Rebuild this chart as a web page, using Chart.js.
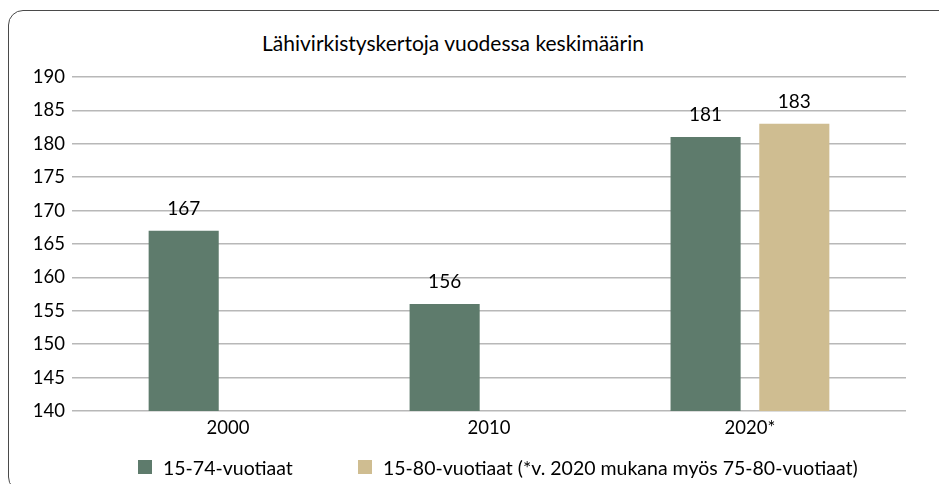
<!DOCTYPE html>
<html>
<head>
<meta charset="utf-8">
<script src="https://cdn.jsdelivr.net/npm/chart.js@4"></script>
<style>
  html, body { margin: 0; padding: 0; background: #fff; overflow: hidden; width: 939px; height: 484px; }
  #frame { position: absolute; left: 8px; top: 10px; width: 1000px; height: 480px; border: 1px solid #4a4a4a; border-radius: 15px; }
  #title { position: absolute; left: 153px; width: 600px; top: 30px; text-align: center; font-family: Lato, sans-serif; font-size: 21px; color: #000; }
  #wrap { position: absolute; left: 0; top: 0; width: 998px; height: 484px; }
  #legend { position: absolute; top: 455px; left: 138px; font-family: Lato, sans-serif; font-size: 19.5px; color: #000; white-space: nowrap; }
  .item { position: absolute; top: 0; display: flex; align-items: center; height: 24px; }
  .box { width: 14px; height: 14px; margin-right: 11px; }
</style>
</head>
<body>
<div id="frame"></div>
<div id="title">Lähivirkistyskertoja vuodessa keskimäärin</div>
<div id="wrap"><canvas id="c"></canvas></div>
<div id="legend"></div>
<script>
const categories = ['2000', '2010', '2020*'];
const seriesNames = ['15-74-vuotiaat', '15-80-vuotiaat (*v. 2020 mukana myös 75-80-vuotiaat)'];
const series1 = [167, 156, 181];
const series2 = [null, null, 183];
const yMin = 140, yMax = 190, yStep = 5;
const colors = ['#5e7b6c', '#cfbd91'];

const font = { family: 'Lato, sans-serif', size: 18.5 };

const valueLabels = {
  id: 'valueLabels',
  afterDatasetsDraw(chart) {
    const ctx = chart.ctx;
    ctx.save();
    ctx.font = '19px Lato, sans-serif';
    ctx.fillStyle = '#000';
    ctx.textAlign = 'center';
    ctx.textBaseline = 'middle';
    chart.data.datasets.forEach((ds, di) => {
      const meta = chart.getDatasetMeta(di);
      meta.data.forEach((el, i) => {
        const v = ds.data[i].y;
        if (v === null || v === undefined) return;
        ctx.fillText(String(v), el.x, el.y - 22);
      });
    });
    ctx.restore();
  }
};

new Chart(document.getElementById('c'), {
  type: 'bar',
  data: {
    datasets: [
      { label: seriesNames[0], data: categories.map((c, i) => ({ x: i, y: series1[i] })), backgroundColor: colors[0], categoryPercentage: 0.68, barPercentage: 0.79 },
      { label: seriesNames[1], data: categories.map((c, i) => ({ x: i, y: series2[i] })), backgroundColor: colors[1], categoryPercentage: 0.68, barPercentage: 0.79 }
    ]
  },
  options: {
    responsive: true,
    maintainAspectRatio: false,
    animation: false,
    layout: { padding: { left: 8, right: 92, top: 77, bottom: 43 } },
    plugins: { legend: { display: false }, title: { display: false }, tooltip: { enabled: false } },
    scales: {
      x: {
        type: 'linear', bounds: 'data', offset: false, min: -0.598, max: 2.598,
        grid: { display: false, drawTicks: false }, border: { display: false },
        afterBuildTicks: s => { s.ticks = categories.map((c, i) => ({ value: i })); },
        afterFit: s => { s.height = 30; },
        ticks: { callback: v => categories[v] ?? '', autoSkip: false, maxRotation: 0, padding: 6, color: '#000', font }
      },
      y: {
        min: yMin, max: yMax,
        ticks: { stepSize: yStep, padding: 7, color: '#000', font },
        grid: { color: '#b8b8b8', lineWidth: 1.5, drawTicks: false },
        border: { display: false },
        afterFit: s => { s.width = 64; }
      }
    }
  },
  plugins: [valueLabels]
});

// legend (HTML text)
const legend = document.getElementById('legend');
const legendX = [0, 220];
seriesNames.forEach((n, i) => {
  const d = document.createElement('div');
  d.className = 'item';
  d.style.left = legendX[i] + 'px';
  const b = document.createElement('span');
  b.className = 'box';
  b.style.background = colors[i];
  const t = document.createElement('span');
  t.textContent = n;
  d.appendChild(b); d.appendChild(t);
  legend.appendChild(d);
});
</script>
</body>
</html>
